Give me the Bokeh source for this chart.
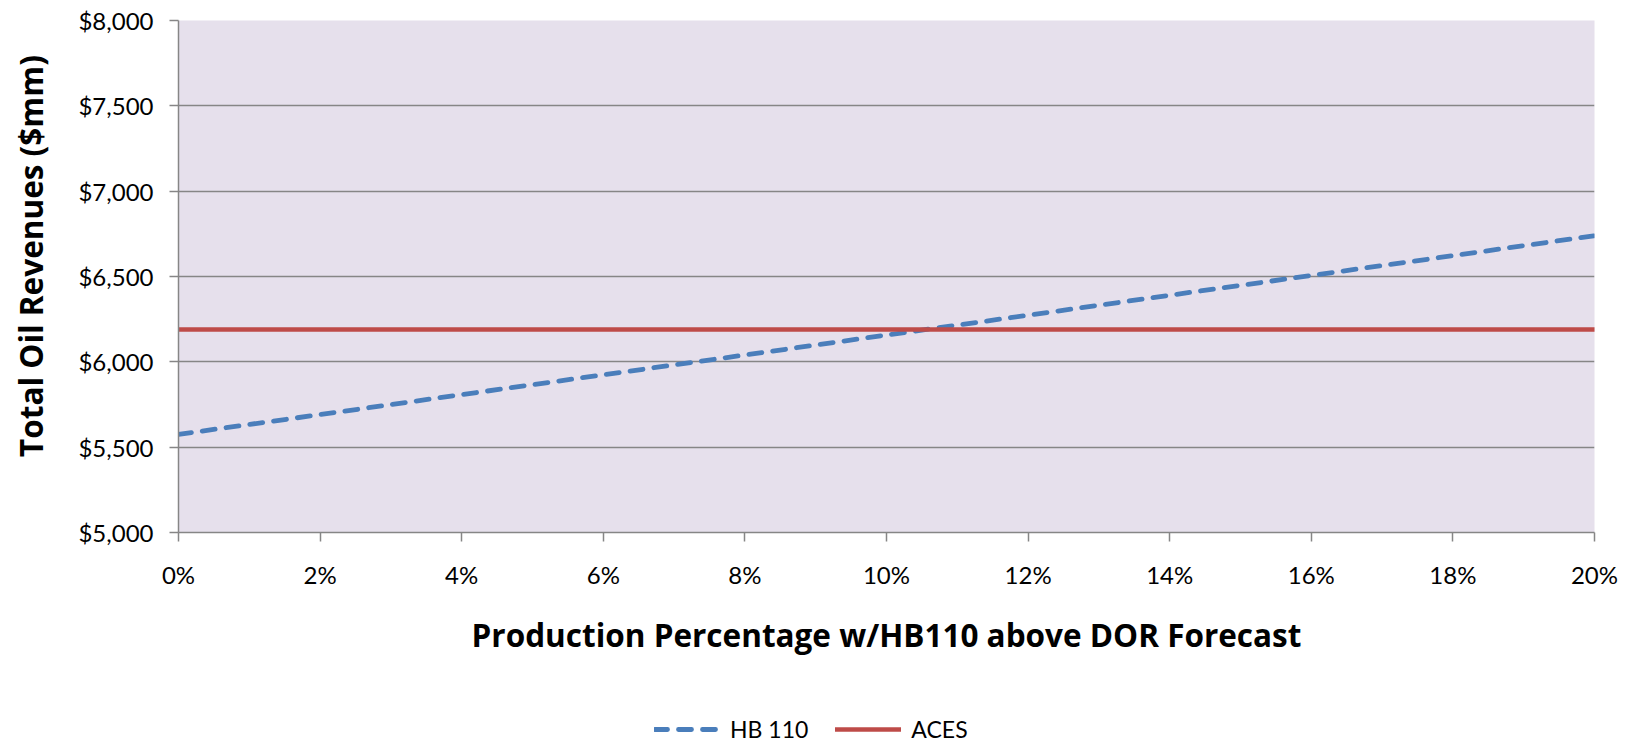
from bokeh.embed import file_html
from bokeh.layouts import column
from bokeh.models import (ColumnDataSource, Legend, LegendItem,
                          NumeralTickFormatter, Range1d, FixedTicker)
from bokeh.plotting import figure
from bokeh.resources import INLINE

# Production above forecast (fraction) and total oil revenue ($mm)
production_pct = [0.00, 0.02, 0.04, 0.06, 0.08, 0.10, 0.12, 0.14, 0.16, 0.18, 0.20]
hb110_revenue = [5575, 5691, 5808, 5924, 6040, 6157, 6273, 6390, 6506, 6622, 6739]
aces_revenue = [6190, 6190, 6190, 6190, 6190, 6190, 6190, 6190, 6190, 6190, 6190]

x_ticks = [0.00, 0.02, 0.04, 0.06, 0.08, 0.10, 0.12, 0.14, 0.16, 0.18, 0.20]
y_ticks = [5000, 5500, 6000, 6500, 7000, 7500, 8000]
series_names = ["HB 110", "ACES"]

FONT = "Lato"
TITLE_FONT = "Open Sans"
GRAY = "#868686"
BLUE = "#4A7EBB"
RED = "#BE4B48"
HB_STYLE = dict(line_color=BLUE, line_width=4.8, line_dash="13 11", line_cap="round")
ACES_STYLE = dict(line_color=RED, line_width=4.5, line_cap="round")

src = ColumnDataSource(dict(x=production_pct, hb=hb110_revenue, aces=aces_revenue))

p = figure(width=1634, height=703, output_backend="svg", toolbar_location=None,
           x_range=Range1d(0, 0.2), y_range=Range1d(5000, 8000),
           min_border_left=178, min_border_right=40, min_border_top=20,
           min_border_bottom=171)
p.outline_line_color = None
p.background_fill_color = "#E6E0EC"
p.border_fill_color = "white"

# axes
for ax in (p.xaxis[0], p.yaxis[0]):
    ax.axis_line_color = GRAY
    ax.axis_line_width = 1.5
    ax.major_tick_line_color = GRAY
    ax.major_tick_line_width = 1.5
    ax.major_tick_in = 0
    ax.major_tick_out = 9
    ax.minor_tick_line_color = None
    ax.major_label_text_font = FONT
    ax.major_label_text_font_size = "24px"
    ax.major_label_text_color = "black"
    ax.axis_label_text_font = TITLE_FONT
    ax.axis_label_text_font_style = "bold"
    ax.axis_label_text_font_size = "31.5px"
    ax.axis_label_text_color = "black"

p.xaxis.ticker = FixedTicker(ticks=x_ticks)
p.xaxis.formatter = NumeralTickFormatter(format="0%")
p.xaxis.major_label_standoff = 18
p.xaxis.axis_label = "Production Percentage w/HB110 above DOR Forecast"
p.xaxis.axis_label_standoff = 21

p.yaxis.ticker = FixedTicker(ticks=y_ticks)
p.yaxis.formatter = NumeralTickFormatter(format="$0,0")
p.yaxis.major_label_standoff = 16
# leading no-break spaces lift the title a little above the frame's centre
p.yaxis.axis_label = "\u00a0" * 5 + "Total Oil Revenues ($mm)"
p.yaxis.axis_label_standoff = 23

p.xgrid.grid_line_color = None
p.ygrid.grid_line_color = GRAY
p.ygrid.grid_line_width = 1.5

p.line("x", "hb", source=src, **HB_STYLE)
p.line("x", "aces", source=src, **ACES_STYLE)

# legend strip under the chart; its frame lines up with the chart's frame,
# and its view range keeps the series themselves out of sight
lg = figure(width=1634, height=40, output_backend="svg", toolbar_location=None,
            x_range=Range1d(0, 1), y_range=Range1d(0, 1),
            min_border=0, x_axis_type=None, y_axis_type=None)
lg.outline_line_color = None
lg.grid.grid_line_color = None
lg.background_fill_color = "white"
lg.border_fill_color = "white"
key_hb = lg.line("x", "hb", source=src, **HB_STYLE)
key_aces = lg.line("x", "aces", source=src, **ACES_STYLE)

legend = Legend(items=[LegendItem(label=series_names[0], renderers=[key_hb]),
                       LegendItem(label=series_names[1], renderers=[key_aces])],
                orientation="horizontal", location=(476, 0),
                glyph_width=66, glyph_height=20, label_standoff=10, spacing=27,
                padding=0, margin=0, border_line_color=None,
                background_fill_alpha=0,
                label_text_font=FONT, label_text_font_size="23px",
                label_text_color="black")
lg.add_layout(legend, "center")

open("out.html", "w").write(file_html(column(p, lg, spacing=0), INLINE))
